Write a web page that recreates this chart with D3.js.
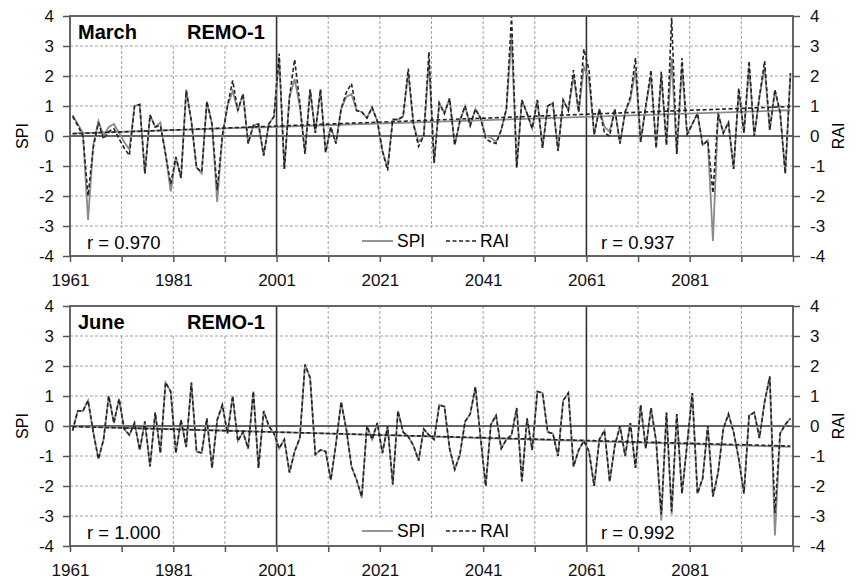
<!DOCTYPE html>
<html>
<head>
<meta charset="utf-8">
<script src="https://cdn.jsdelivr.net/npm/d3@7"></script>
<style>
  body { margin: 0; background: #fff; }
  svg { font-family: "Liberation Sans", Arial, sans-serif; }
</style>
</head>
<body>
<svg id="chart" width="856" height="582"></svg>
<script>
// yearly values 1961-2100
var years = d3.range(1961, 2101);

var marchSPI = [0.7,0.4,0.1,-2.8,-0.3,0.5,0.0,0.3,0.4,0.1,
  -0.2,-0.45,1.0,1.05,-1.25,0.7,0.3,0.45,-0.6,-1.85,
  -0.7,-1.4,1.55,0.5,-1.05,-1.25,1.15,0.4,-2.2,0.0,
  1.0,1.5,0.85,1.4,-0.25,0.35,0.4,-0.65,0.4,0.65,
  2.6,-1.1,1.3,1.9,1.0,-0.55,1.55,0.1,1.55,-0.55,
  0.3,-0.25,0.9,1.3,1.4,0.85,0.8,0.6,0.95,0.5,
  -0.5,-1.05,0.55,0.55,0.65,2.1,0.4,-0.2,0.0,2.5,
  -0.9,1.1,0.75,1.25,-0.3,0.5,1.0,0.35,0.9,0.6,
  0.0,-0.05,-0.2,0.2,0.9,3.3,-1.05,1.2,0.75,0.25,
  1.2,-0.4,1.0,1.1,-0.5,1.2,0.85,2.0,0.8,2.3,
  1.9,0.05,0.9,0.3,0.15,0.9,-0.25,0.8,1.2,2.2,
  -0.2,1.0,2.0,-0.4,2.0,-0.3,2.6,-0.6,2.3,0.05,
  0.4,0.75,-0.3,-0.15,-3.5,0.75,0.1,0.45,-1.1,1.5,
  0.1,2.3,0.0,1.3,2.3,0.2,1.5,0.8,-1.25,2.0];

var marchRAI = [0.65,0.35,0.0,-2.0,-0.4,0.45,-0.1,0.15,0.25,-0.1,
  -0.4,-0.65,1.0,1.05,-1.25,0.7,0.3,0.35,-0.6,-1.6,
  -0.7,-1.4,1.5,0.5,-1.05,-1.2,1.15,0.4,-1.8,0.0,
  1.0,1.85,0.85,1.4,-0.25,0.35,0.4,-0.65,0.4,0.65,
  2.75,-1.1,1.3,2.55,1.1,-0.6,1.55,0.1,1.55,-0.55,
  0.3,-0.25,0.9,1.45,1.75,0.85,0.8,0.6,0.95,0.5,
  -0.5,-1.15,0.55,0.55,0.65,2.25,0.4,-0.35,0.0,2.8,
  -0.9,1.1,0.75,1.25,-0.3,0.5,1.0,0.35,0.9,0.6,
  -0.1,-0.2,-0.25,0.2,0.9,4.0,-1.05,1.2,0.75,0.25,
  1.2,-0.4,1.0,1.1,-0.5,1.2,0.85,2.2,0.8,2.9,
  2.2,0.05,0.9,0.1,0.0,0.9,-0.25,0.8,1.3,2.6,
  -0.2,1.0,2.2,-0.4,2.15,-0.3,3.95,-0.6,2.6,0.05,
  0.4,0.75,-0.3,-0.15,-1.9,0.75,0.1,0.45,-1.1,1.6,
  0.1,2.5,0.0,1.3,2.5,0.2,1.55,0.8,-1.25,2.1];

var juneSPI = [-0.15,0.5,0.5,0.85,-0.2,-1.1,-0.45,1.0,0.1,0.9,
  -0.1,-0.3,0.1,-0.8,0.15,-1.35,0.45,-0.9,1.45,1.15,
  -0.9,0.2,-0.7,1.45,-0.85,-0.9,0.25,-1.4,0.2,0.7,
  -0.25,1.0,-0.5,-0.2,-0.75,1.15,-1.4,0.5,0.0,-0.25,
  -0.75,-0.45,-1.55,-0.85,-0.4,2.05,1.6,-0.95,-0.8,-0.85,
  -1.8,-0.6,0.8,-0.1,-1.35,-1.8,-2.4,0.0,-0.45,0.1,
  -0.9,0.0,-1.95,0.5,-0.2,-0.35,-0.65,-1.15,-0.1,-0.3,
  -0.45,0.7,0.65,-0.75,-1.45,-0.95,0.15,0.4,1.3,-0.4,
  -2.0,0.05,0.35,-0.75,-0.45,-0.3,0.6,-1.85,0.25,-0.8,
  1.15,1.1,-0.2,-0.25,-1.0,0.85,1.1,-1.35,-0.8,-0.5,
  -0.85,-2.0,-0.45,-0.15,-1.85,-0.65,0.0,-1.0,0.1,-1.4,
  0.7,-0.75,0.6,-0.5,-3.15,0.45,-2.95,0.4,-2.25,-0.6,
  1.1,-2.25,-1.75,0.0,-2.35,-1.55,-0.1,0.4,-0.2,-1.1,
  -2.25,0.35,0.45,-0.4,0.8,1.65,-3.65,-0.25,0.05,0.25];

var juneRAI = [-0.15,0.5,0.5,0.85,-0.2,-1.1,-0.45,1.0,0.1,0.9,
  -0.1,-0.3,0.1,-0.8,0.15,-1.35,0.45,-0.9,1.45,1.15,
  -0.9,0.2,-0.7,1.45,-0.85,-0.9,0.25,-1.4,0.2,0.7,
  -0.25,1.0,-0.5,-0.2,-0.75,1.15,-1.4,0.5,0.0,-0.25,
  -0.75,-0.45,-1.55,-0.85,-0.4,2.05,1.6,-0.95,-0.8,-0.85,
  -1.8,-0.6,0.8,-0.1,-1.35,-1.8,-2.35,0.0,-0.45,0.1,
  -0.9,0.0,-1.95,0.5,-0.2,-0.35,-0.65,-1.15,-0.1,-0.3,
  -0.45,0.7,0.65,-0.75,-1.45,-0.95,0.15,0.4,1.3,-0.4,
  -2.0,0.05,0.35,-0.75,-0.45,-0.3,0.6,-1.85,0.25,-0.8,
  1.15,1.1,-0.2,-0.25,-1.0,0.85,1.1,-1.35,-0.8,-0.5,
  -0.85,-2.0,-0.45,-0.15,-1.85,-0.65,0.0,-1.0,0.1,-1.4,
  0.7,-0.75,0.6,-0.5,-2.95,0.45,-2.85,0.4,-2.25,-0.6,
  1.1,-2.25,-1.75,0.0,-2.35,-1.55,-0.1,0.4,-0.2,-1.1,
  -2.25,0.35,0.45,-0.4,0.8,1.65,-2.9,-0.25,0.05,0.25];

var yTicks = [-4,-3,-2,-1,0,1,2,3,4];
var xTicks = [1961,1971,1981,1991,2001,2011,2021,2031,2041,2051,2061,2071,2081,2091,2101];
var xLabels = [1961,1981,2001,2021,2041,2061,2081];
var periodBreaks = [2001, 2061];
var months = ["March", "June"];
var rLeft = ["0.970", "1.000"];
var rRight = ["0.937", "0.992"];

var svg = d3.select("#chart");
var left = 70, right = 793, ph = 240;
var panelTops = [16, 306];

var x = d3.scaleLinear().domain([1961, 2101]).range([left, right]);
var y = d3.scaleLinear().domain([-4, 4]).range([ph, 0]);

var spiColor = "#8a8a8a", raiColor = "#222";

// least squares line over the yearly points
function trend(vals) {
  var n = vals.length;
  var mx = d3.mean(years), my = d3.mean(vals);
  var sxy = 0, sxx = 0;
  years.forEach(function(yr, i) {
    sxy += (yr - mx) * (vals[i] - my);
    sxx += (yr - mx) * (yr - mx);
  });
  var b = sxy / sxx, a = my - b * mx;
  return [years[0], years[n - 1]].map(function(yr) { return {year: yr, v: a + b * yr}; });
}

function drawPanel(top, spi, rai, month, rl, rr) {
  var g = svg.append("g").attr("transform", "translate(0," + top + ")");

  // grid
  g.append("g").selectAll("line")
    .data(yTicks.filter(function(v) { return v != 0 && Math.abs(v) != 4; }))
    .join("line")
      .attr("x1", left).attr("x2", right)
      .attr("y1", function(d) { return y(d); }).attr("y2", function(d) { return y(d); })
      .attr("stroke", "#a0a0a0").attr("stroke-dasharray", "3,2").attr("stroke-width", 1);

  g.append("g").selectAll("line")
    .data(xTicks.filter(function(d) { return d != 1961 && d != 2101 && periodBreaks.indexOf(d) < 0; }))
    .join("line")
      .attr("x1", function(d) { return x(d); }).attr("x2", function(d) { return x(d); })
      .attr("y1", 0).attr("y2", ph)
      .attr("stroke", "#a0a0a0").attr("stroke-dasharray", "3,2").attr("stroke-width", 1);

  // white boxes behind the text blocks
  var boxes = [[75, 1, 200, 28], [83, 212, 80, 28], [357, 212, 158, 28], [597, 212, 80, 28]];
  g.append("g").selectAll("rect").data(boxes).join("rect")
    .attr("x", function(d) { return d[0]; }).attr("y", function(d) { return d[1]; })
    .attr("width", function(d) { return d[2]; }).attr("height", function(d) { return d[3]; })
    .attr("fill", "#fff");

  // zero line and period separators
  g.append("line").attr("x1", left).attr("x2", right).attr("y1", y(0)).attr("y2", y(0))
    .attr("stroke", "#333").attr("stroke-width", 1.6);
  g.append("g").selectAll("line").data(periodBreaks).join("line")
    .attr("x1", function(d) { return x(d); }).attr("x2", function(d) { return x(d); })
    .attr("y1", 0).attr("y2", ph)
    .attr("stroke", "#333").attr("stroke-width", 1.6);

  var line = d3.line()
    .x(function(d, i) { return x(years[i] + 0.5); })
    .y(function(d) { return y(d); });
  var tline = d3.line()
    .x(function(d) { return x(d.year + 0.5); })
    .y(function(d) { return y(d.v); });

  g.append("path").attr("d", line(spi)).attr("fill", "none")
    .attr("stroke", spiColor).attr("stroke-width", 1.8);
  g.append("path").attr("d", tline(trend(spi))).attr("fill", "none")
    .attr("stroke", spiColor).attr("stroke-width", 1.8);
  g.append("path").attr("d", line(rai)).attr("fill", "none")
    .attr("stroke", raiColor).attr("stroke-width", 1.6).attr("stroke-dasharray", "4,2.5");
  g.append("path").attr("d", tline(trend(rai))).attr("fill", "none")
    .attr("stroke", raiColor).attr("stroke-width", 1.6).attr("stroke-dasharray", "4,2.5");

  // frame
  g.append("rect").attr("x", left).attr("y", 0).attr("width", right - left).attr("height", ph)
    .attr("fill", "none").attr("stroke", "#555").attr("stroke-width", 1.8);

  // axes
  var plain = function(d) { return String(d); };
  var xAxis = d3.axisBottom(x).tickValues(xTicks).tickSize(6).tickPadding(12)
    .tickFormat(function(d) { return xLabels.indexOf(d) >= 0 ? String(d) : ""; });
  var ax = g.append("g").attr("transform", "translate(0," + ph + ")").call(xAxis);
  var ayl = g.append("g").attr("transform", "translate(" + left + ",0)")
    .call(d3.axisLeft(y).tickValues(yTicks).tickFormat(plain).tickSize(7).tickPadding(9));
  var ayr = g.append("g").attr("transform", "translate(" + right + ",0)")
    .call(d3.axisRight(y).tickValues(yTicks).tickFormat(plain).tickSize(7).tickPadding(10));
  [ax, ayl, ayr].forEach(function(a) {
    a.select(".domain").remove();
    a.selectAll(".tick line").attr("stroke", "#555").attr("stroke-width", 1.5);
    a.selectAll("text").attr("font-size", 17).attr("fill", "#111")
      .attr("font-family", "'Liberation Sans', Arial, sans-serif");
  });

  // axis titles
  g.append("text").attr("transform", "translate(22," + ph / 2 + ") rotate(-90)")
    .attr("text-anchor", "middle").attr("dominant-baseline", "central")
    .attr("font-size", 16).text("SPI");
  g.append("text").attr("transform", "translate(838," + ph / 2 + ") rotate(-90)")
    .attr("text-anchor", "middle").attr("dominant-baseline", "central")
    .attr("font-size", 16).text("RAI");

  // titles
  g.append("text").attr("x", 78).attr("y", 23).attr("font-size", 20)
    .attr("font-weight", "bold").text(month);
  g.append("text").attr("x", 187).attr("y", 23).attr("font-size", 20)
    .attr("font-weight", "bold").text("REMO-1");

  // correlation labels
  g.append("text").attr("x", 87).attr("y", 232.5).attr("font-size", 18.5).text("r = " + rl);
  g.append("text").attr("x", 601).attr("y", 232.5).attr("font-size", 18.5).text("r = " + rr);

  // legend
  var ly = 225;
  g.append("line").attr("x1", 362).attr("x2", 393).attr("y1", ly).attr("y2", ly)
    .attr("stroke", spiColor).attr("stroke-width", 1.8);
  g.append("text").attr("x", 397).attr("y", ly + 6).attr("font-size", 17.5).text("SPI");
  g.append("line").attr("x1", 446).attr("x2", 477).attr("y1", ly).attr("y2", ly)
    .attr("stroke", raiColor).attr("stroke-width", 1.6).attr("stroke-dasharray", "4,2.5");
  g.append("text").attr("x", 480).attr("y", ly + 6).attr("font-size", 17.5).text("RAI");
}

drawPanel(panelTops[0], marchSPI, marchRAI, months[0], rLeft[0], rRight[0]);
drawPanel(panelTops[1], juneSPI, juneRAI, months[1], rLeft[1], rRight[1]);
</script>
</body>
</html>
